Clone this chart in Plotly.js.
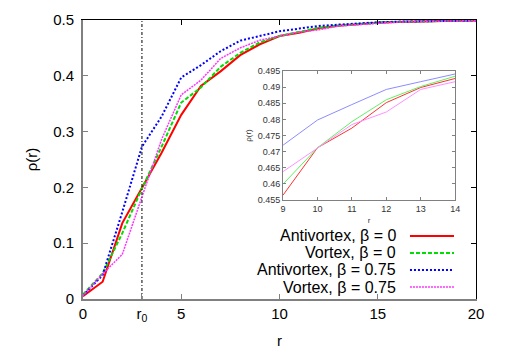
<!DOCTYPE html>
<html>
<head>
<meta charset="utf-8">
<script src="https://cdn.plot.ly/plotly-3.0.1.min.js"></script>
<style>
  html, body { margin: 0; padding: 0; background: #fff; }
  #graph { width: 506px; height: 354px; }
</style>
</head>
<body>
<div id="graph"></div>
<script>
// radial positions
const r = [0, 1, 2, 3, 4, 5, 6, 7, 8, 9, 10, 11, 12, 13, 14, 15, 16, 17, 18, 19, 20];
const r0 = 3;

// rho(r) for each case
const antivortex0 = [0.005, 0.031, 0.136, 0.198, 0.262, 0.330, 0.382, 0.408, 0.437, 0.4565, 0.4712,
    0.4773, 0.4852, 0.4899, 0.4927, 0.4950, 0.4965, 0.4975, 0.4982, 0.4986, 0.4989];
const vortex0 = [0.008, 0.046, 0.118, 0.198, 0.273, 0.352, 0.379, 0.416, 0.441, 0.4599, 0.4712,
    0.4793, 0.4861, 0.4902, 0.4934, 0.4954, 0.4968, 0.4977, 0.4983, 0.4987, 0.4990];
const antivortex075 = [0.006, 0.043, 0.156, 0.273, 0.327, 0.397, 0.419, 0.444, 0.463, 0.472, 0.4798,
    0.4846, 0.4893, 0.4917, 0.4941, 0.4958, 0.4970, 0.4978, 0.4984, 0.4988, 0.4991];
const vortex075 = [0.006, 0.045, 0.080, 0.181, 0.286, 0.366, 0.392, 0.431, 0.450, 0.4638, 0.4710,
    0.4784, 0.4823, 0.4893, 0.4917, 0.4945, 0.4962, 0.4973, 0.4980, 0.4985, 0.4988];

const seriesNames = ['Antivortex, β = 0', 'Vortex, β = 0', 'Antivortex, β = 0.75', 'Vortex, β = 0.75'];
const xTickVals = [0, r0, 5, 10, 15, 20];
const xTickText = ['0', 'r<sub>0</sub>', '5', '10', '15', '20'];

// inset shows r = 9..14
const insetStart = 9, insetEnd = 14;

const allSeries = [antivortex0, vortex0, antivortex075, vortex075];
const mainStyles = [
    { color: '#ff0000', width: 2, dash: 'solid' },
    { color: '#00dd00', width: 2, dash: '4px,2px' },
    { color: '#0000ff', width: 2, dash: '2px,2px' },
    { color: '#ff33ff', width: 1.5, dash: '2px,1px' }
];
const insetColors = ['#ff3030', '#60f060', '#8c8cff', '#ff90ff'];

const traces = [];
allSeries.forEach(function(ys, i) {
    traces.push({
        x: r, y: ys, mode: 'lines', type: 'scatter', name: seriesNames[i],
        line: mainStyles[i], hoverinfo: 'skip'
    });
});

// vertical marker at r0 (drawn on the overlay axes, which also give the black top/right border)
traces.push({
    x: [r0, r0], y: [0, 0.5], xaxis: 'x3', yaxis: 'y3', mode: 'lines', type: 'scatter',
    line: { color: '#000', width: 1, dash: '3px,2px,1px,2px' }, hoverinfo: 'skip'
});

allSeries.forEach(function(ys, i) {
    traces.push({
        x: r.slice(insetStart, insetEnd + 1), y: ys.slice(insetStart, insetEnd + 1),
        xaxis: 'x2', yaxis: 'y2', mode: 'lines', type: 'scatter',
        line: { color: insetColors[i], width: 1 }, hoverinfo: 'skip'
    });
});

// hand-made legend (text on the left, sample on the right like gnuplot)
const annotations = [];
const shapes = [];
const rowY = [0.226, 0.165, 0.104, 0.043];
seriesNames.forEach(function(name, i) {
    annotations.push({
        xref: 'paper', yref: 'paper', x: 0.8015, y: rowY[i], xanchor: 'right', yanchor: 'middle',
        text: name, showarrow: false, font: { size: 16, color: '#000' }
    });
    shapes.push({
        type: 'line', xref: 'paper', yref: 'paper', x0: 0.832, x1: 0.944, y0: rowY[i], y1: rowY[i],
        line: mainStyles[i]
    });
});

const gray = '#808080';
const layout = {
    width: 506, height: 354,
    margin: { l: 83, r: 30, t: 20, b: 55 },
    paper_bgcolor: '#fff', plot_bgcolor: '#fff',
    font: { family: 'Liberation Sans, Arial, sans-serif', size: 15, color: '#000' },
    showlegend: false,
    xaxis: {
        range: [0, 20], tickvals: xTickVals, ticktext: xTickText,
        ticks: 'inside', ticklen: 5, tickcolor: gray, linecolor: gray, linewidth: 2,
        showgrid: false, zeroline: false, tickfont: { size: 15 },
        title: { text: 'r', font: { size: 15 }, standoff: 12 }
    },
    yaxis: {
        range: [0, 0.5], tickvals: [0, 0.1, 0.2, 0.3, 0.4, 0.5],
        ticks: 'inside', ticklen: 5, tickcolor: gray, linecolor: gray, linewidth: 2,
        showgrid: false, zeroline: false, tickfont: { size: 15 }, ticklabelstandoff: 4,
        title: { text: 'ρ(r)', font: { size: 15 }, standoff: 12 }
    },
    xaxis3: {
        overlaying: 'x', side: 'top', anchor: 'y', range: [0, 20], tickvals: [5, 10, 15],
        ticks: 'inside', ticklen: 5, tickcolor: '#000', showticklabels: false,
        linecolor: '#000', linewidth: 1, showgrid: false, zeroline: false
    },
    yaxis3: {
        overlaying: 'y', side: 'right', anchor: 'x', range: [0, 0.5], tickvals: [0.1, 0.2, 0.3, 0.4],
        ticks: 'inside', ticklen: 5, tickcolor: '#000', showticklabels: false,
        linecolor: '#000', linewidth: 1, showgrid: false, zeroline: false
    },
    xaxis2: {
        domain: [0.509, 0.947], anchor: 'y2', range: [insetStart, insetEnd], dtick: 1,
        ticks: 'inside', ticklen: 3, tickcolor: gray, linecolor: gray, linewidth: 1, mirror: 'ticks',
        showgrid: false, zeroline: false, tickfont: { size: 9, color: '#333' },
        title: { text: 'r', font: { size: 8, color: '#333' }, standoff: 4 }
    },
    yaxis2: {
        domain: [0.355, 0.817], anchor: 'x2', range: [0.455, 0.495], dtick: 0.005,
        ticks: 'inside', ticklen: 3, tickcolor: gray, linecolor: gray, linewidth: 1, mirror: 'ticks',
        showgrid: false, zeroline: false, tickfont: { size: 9, color: '#333' },
        title: { text: 'ρ(r)', font: { size: 8, color: '#333' }, standoff: 4 }
    },
    annotations: annotations,
    shapes: shapes
};

Plotly.newPlot('graph', traces, layout, { displayModeBar: false, staticPlot: true });
</script>
</body>
</html>
